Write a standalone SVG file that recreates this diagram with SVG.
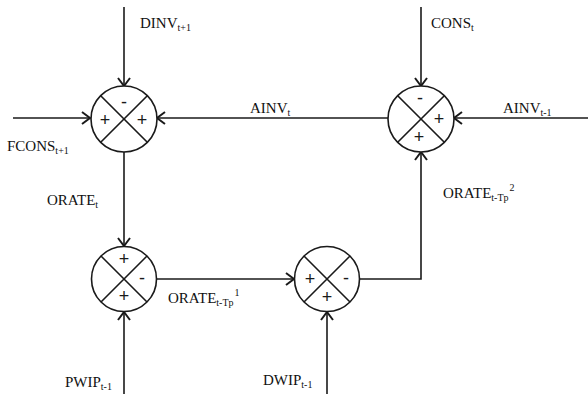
<svg xmlns="http://www.w3.org/2000/svg" width="588" height="394" viewBox="0 0 588 394">
<style>
.ln{stroke:#1a1a1a;stroke-width:1.6;fill:none}
.c{stroke:#1a1a1a;stroke-width:1.6;fill:#fff}
.s{font-family:"Liberation Sans",Arial,sans-serif;font-size:18px;fill:#1a1a1a;text-anchor:middle;dominant-baseline:central}
.t{font-family:"Liberation Serif","Times New Roman",serif;font-size:15px;fill:#111}
.sub{font-size:10px}
</style>
<defs>
<marker id="ar" markerUnits="userSpaceOnUse" viewBox="0 0 10 14" refX="9" refY="7" markerWidth="10" markerHeight="14" orient="auto">
<path d="M1,1 L9,7 L1,13" fill="none" stroke="#1a1a1a" stroke-width="2"/>
</marker>
</defs>
<rect width="588" height="394" fill="#fff"/>
<g id="connectors">
<line class="ln" x1="124" y1="7" x2="124" y2="86" marker-end="url(#ar)"/>
<line class="ln" x1="13" y1="118" x2="90" y2="118" marker-end="url(#ar)"/>
<line class="ln" x1="388" y1="118" x2="157" y2="118" marker-end="url(#ar)"/>
<line class="ln" x1="421" y1="7" x2="421" y2="86" marker-end="url(#ar)"/>
<line class="ln" x1="588" y1="118" x2="454" y2="118" marker-end="url(#ar)"/>
<line class="ln" x1="124" y1="152" x2="124" y2="246" marker-end="url(#ar)"/>
<line class="ln" x1="157" y1="279" x2="294" y2="279" marker-end="url(#ar)"/>
<path class="ln" d="M360,279 H421 V152" marker-end="url(#ar)"/>
<line class="ln" x1="124" y1="394" x2="124" y2="312" marker-end="url(#ar)"/>
<line class="ln" x1="327" y1="394" x2="327" y2="312" marker-end="url(#ar)"/>
</g>
<g id="sum1">
<circle class="c" cx="124" cy="119" r="33"/>
<path class="ln" d="M100.7,95.7 L147.3,142.3 M147.3,95.7 L100.7,142.3"/>
<text class="s" x="124" y="102">-</text>
<text class="s" x="105" y="120">+</text>
<text class="s" x="142" y="120">+</text>
</g>
<g id="sum2">
<circle class="c" cx="421" cy="119" r="33"/>
<path class="ln" d="M397.7,95.7 L444.3,142.3 M444.3,95.7 L397.7,142.3"/>
<text class="s" x="420" y="98">-</text>
<text class="s" x="439" y="119">+</text>
<text class="s" x="419" y="137">+</text>
</g>
<g id="sum3">
<circle class="c" cx="124" cy="279" r="32.5"/>
<path class="ln" d="M101,256 L147,302 M147,256 L101,302"/>
<text class="s" x="124" y="259">+</text>
<text class="s" x="142" y="278">-</text>
<text class="s" x="124" y="296">+</text>
</g>
<g id="sum4">
<circle class="c" cx="327" cy="279" r="32.5"/>
<path class="ln" d="M304,256 L350,302 M350,256 L304,302"/>
<text class="s" x="310" y="279">+</text>
<text class="s" x="346" y="278">-</text>
<text class="s" x="327" y="297">+</text>
</g>
<g id="labels">
<text class="t" x="140" y="28">DINV<tspan class="sub" dy="3">t+1</tspan></text>
<text class="t" x="431" y="28">CONS<tspan class="sub" dy="3">t</tspan></text>
<text class="t" x="250" y="113">AINV<tspan class="sub" dy="3">t</tspan></text>
<text class="t" x="503" y="113">AINV<tspan class="sub" dy="3">t-1</tspan></text>
<text class="t" x="7" y="151">FCONS<tspan class="sub" dy="3">t+1</tspan></text>
<text class="t" x="47" y="205">ORATE<tspan class="sub" dy="3">t</tspan></text>
<text class="t" x="443" y="198">ORATE<tspan class="sub" dy="3">t-Tp</tspan><tspan class="sub" dy="-10" dx="1">2</tspan></text>
<text class="t" x="168" y="303">ORATE<tspan class="sub" dy="3">t-Tp</tspan><tspan class="sub" dy="-10" dx="1">1</tspan></text>
<text class="t" x="65" y="387">PWIP<tspan class="sub" dy="3">t-1</tspan></text>
<text class="t" x="263" y="385">DWIP<tspan class="sub" dy="3">t-1</tspan></text>
</g>
</svg>
